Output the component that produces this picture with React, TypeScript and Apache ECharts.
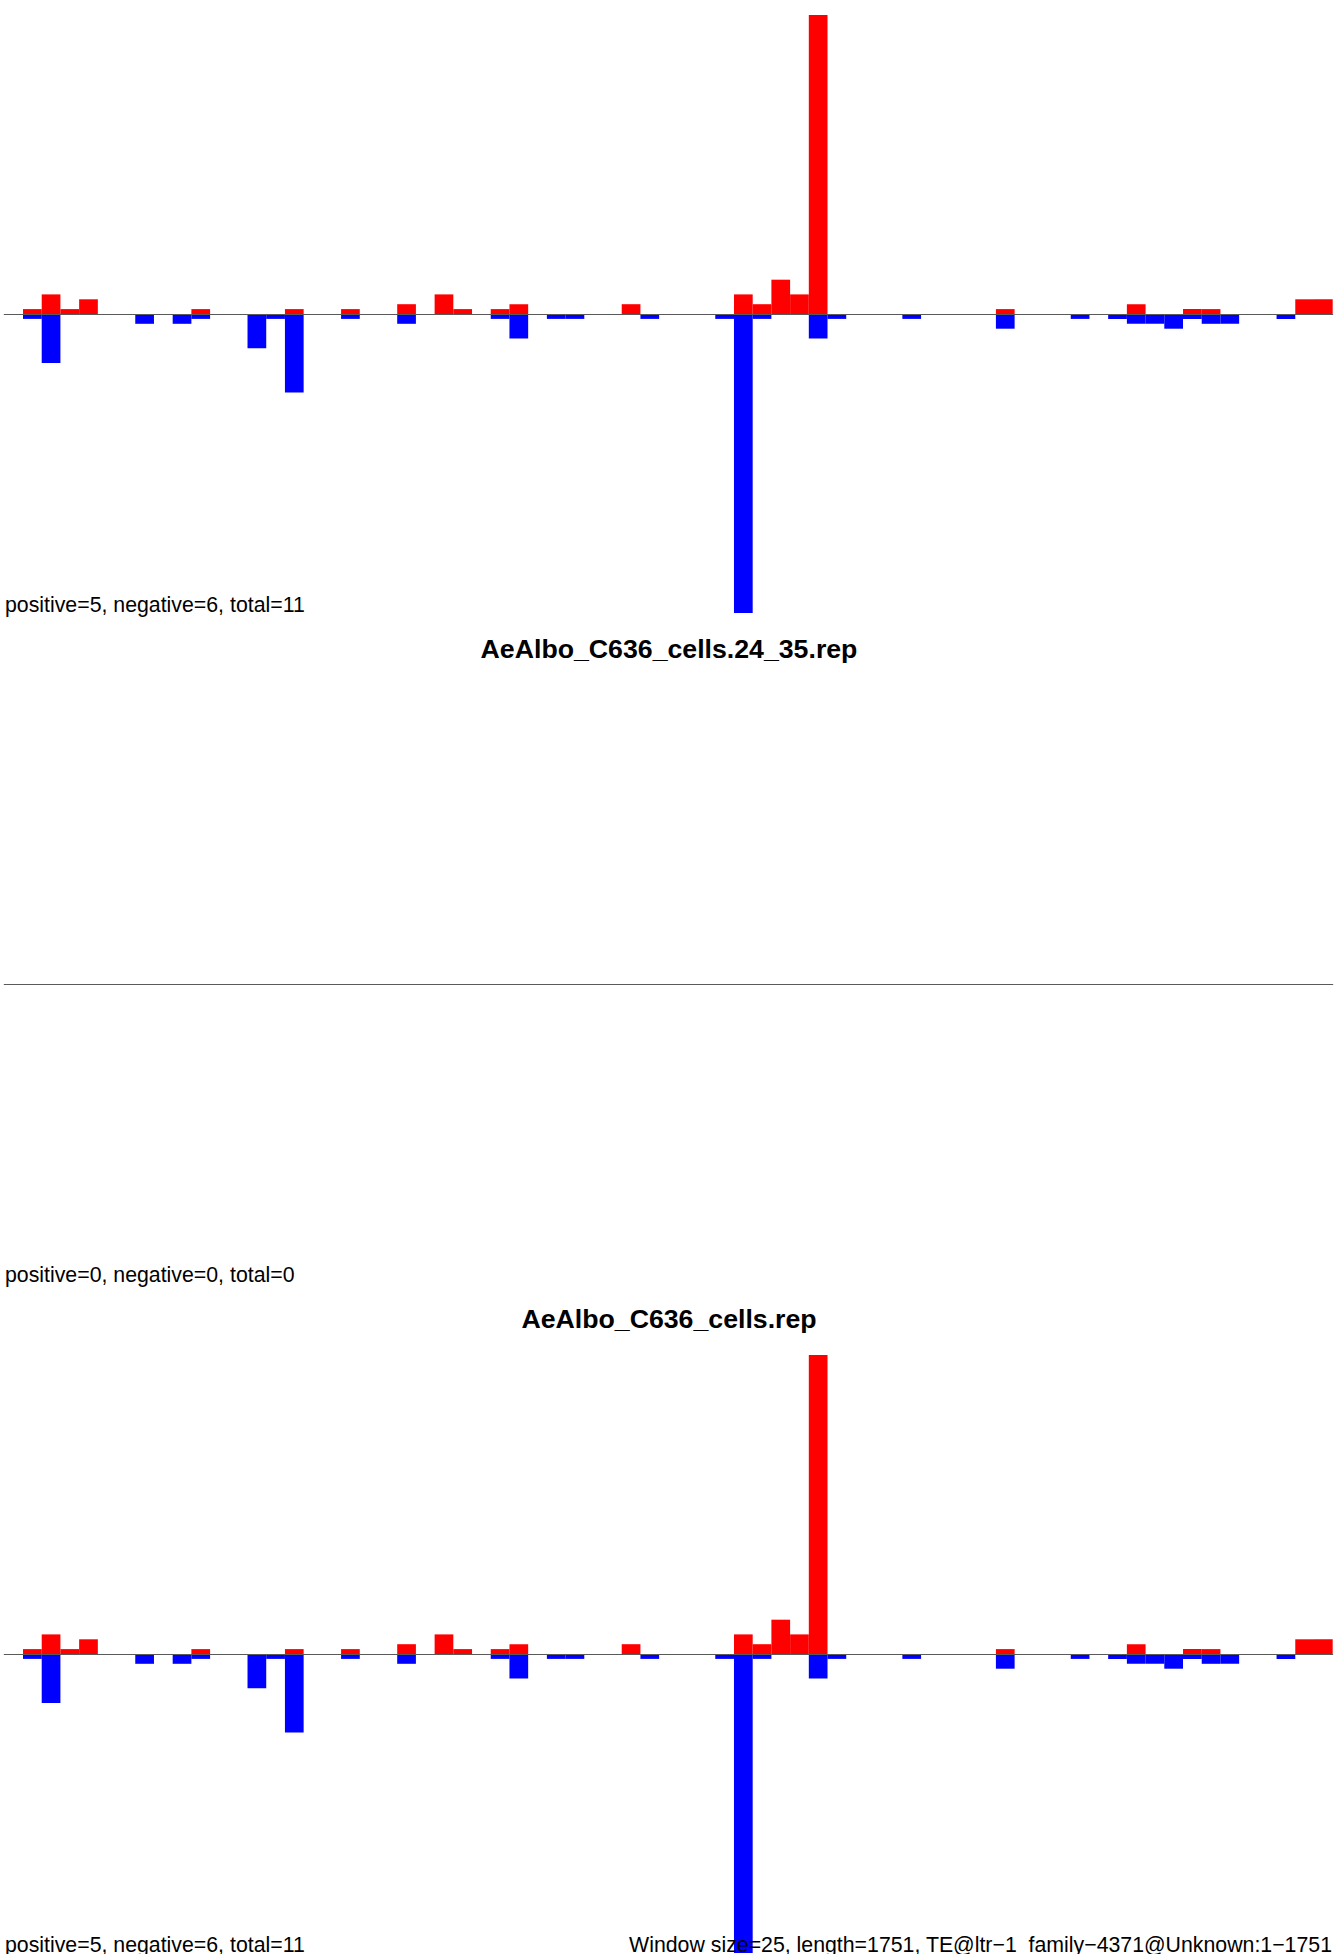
import React, { useEffect, useRef } from "react";
import * as echarts from "echarts";

const windowSize = 25;
const seqLength = 1751;
const windowCount = 71;
const categories: string[] = Array.from({ length: windowCount }, (_, i) => String(i * windowSize + 1));

// positive strand counts per window (red)
const positiveCounts = [
  0, 1, 4, 1, 3, 0, 0, 0, 0, 0,
  1, 0, 0, 0, 0, 1, 0, 0, 1, 0,
  0, 2, 0, 4, 1, 0, 1, 2, 0, 0,
  0, 0, 0, 2, 0, 0, 0, 0, 0, 4,
  2, 7, 4, 61, 0, 0, 0, 0, 0, 0,
  0, 0, 0, 1, 0, 0, 0, 0, 0, 0,
  2, 0, 0, 1, 1, 0, 0, 0, 0, 3,
  3,
];

// negative strand counts per window (blue, drawn below zero)
const negativeCounts = [
  0, -1, -10, 0, 0, 0, 0, -2, 0, -2,
  -1, 0, 0, -7, -1, -16, 0, 0, -1, 0,
  0, -2, 0, 0, 0, 0, -1, -5, 0, -1,
  -1, 0, 0, 0, -1, 0, 0, 0, -1, -61,
  -1, 0, 0, -5, -1, 0, 0, 0, -1, 0,
  0, 0, 0, -3, 0, 0, 0, -1, 0, -1,
  -2, -2, -3, -1, -2, -2, 0, 0, -1, 0,
  0,
];

const panelTitles = ["AeAlbo_C636_cells.24_35.rep", "AeAlbo_C636_cells.rep", ""];
const panelStats = [
  "positive=5, negative=6, total=11",
  "positive=0, negative=0, total=0",
  "positive=5, negative=6, total=11",
];
const panelHasData = [true, false, true];
const footerText = `Window size=${windowSize}, length=${seqLength}, TE@ltr\u22121_family\u22124371@Unknown:1\u22121751`;

const yMax = 61;

export default function App() {
  const ref = useRef<HTMLDivElement>(null);

  useEffect(() => {
    if (!ref.current) return;
    const chart = echarts.init(ref.current, undefined, { renderer: "svg" });
    const panelStep = 670;
    const fontFamily = '"Liberation Sans", Arial, Helvetica, sans-serif';

    const grids = panelTitles.map((_, i) => ({
      left: 4.29,
      top: 15 + panelStep * i,
      width: 1328.4,
      height: 598,
      containLabel: false,
    }));
    const xAxes = panelTitles.map((_, i) => ({
      type: "category",
      gridIndex: i,
      data: categories,
      boundaryGap: true,
      axisLine: { show: true, onZero: true, lineStyle: { color: "#5a5a5a", width: 1.2 } },
      axisTick: { show: false },
      axisLabel: { show: false },
      splitLine: { show: false },
      z: 5,
    }));
    const yAxes = panelTitles.map((_, i) => ({
      type: "value",
      gridIndex: i,
      min: -yMax,
      max: yMax,
      axisLine: { show: false },
      axisTick: { show: false },
      axisLabel: { show: false },
      splitLine: { show: false },
    }));

    const series: any[] = [];
    panelTitles.forEach((_, i) => {
      series.push({
        type: "bar",
        name: "positive",
        xAxisIndex: i,
        yAxisIndex: i,
        data: panelHasData[i] ? positiveCounts : [],
        barGap: "-100%",
        barCategoryGap: "0%",
        itemStyle: { color: "#ff0000" },
        z: 2,
      });
      series.push({
        type: "bar",
        name: "negative",
        xAxisIndex: i,
        yAxisIndex: i,
        data: panelHasData[i] ? negativeCounts : [],
        barGap: "-100%",
        barCategoryGap: "0%",
        itemStyle: { color: "#0000ff" },
        z: 2,
      });
    });

    const graphics: any[] = [];
    panelStats.forEach((t, i) => {
      graphics.push({
        type: "text",
        x: 5,
        y: 604.7 + panelStep * i,
        z: 10,
        style: {
          text: t,
          fontSize: 21.3,
          fontFamily,
          fill: "#000000",
          align: "left",
          verticalAlign: "middle",
        },
      });
    });
    panelTitles.forEach((t, i) => {
      if (!t) return;
      graphics.push({
        type: "text",
        x: 669,
        y: 649 + panelStep * i,
        z: 10,
        style: {
          text: t,
          fontSize: 26.7,
          fontWeight: "bold",
          fontFamily,
          fill: "#000000",
          align: "center",
          verticalAlign: "middle",
        },
      });
    });
    graphics.push({
      type: "text",
      x: 1332,
      y: 604.7 + panelStep * 2,
      z: 10,
      style: {
        text: footerText,
        fontSize: 21.3,
        fontFamily,
        fill: "#000000",
        align: "right",
        verticalAlign: "middle",
      },
    });

    chart.setOption({
      animation: false,
      backgroundColor: "#ffffff",
      grid: grids,
      xAxis: xAxes,
      yAxis: yAxes,
      series,
      graphic: graphics,
    });
    return () => chart.dispose();
  }, []);

  return (
    <div
      ref={ref}
      style={{ position: "absolute", left: 0, top: 0, width: 1337, height: 1954, background: "#fff" }}
    />
  );
}
